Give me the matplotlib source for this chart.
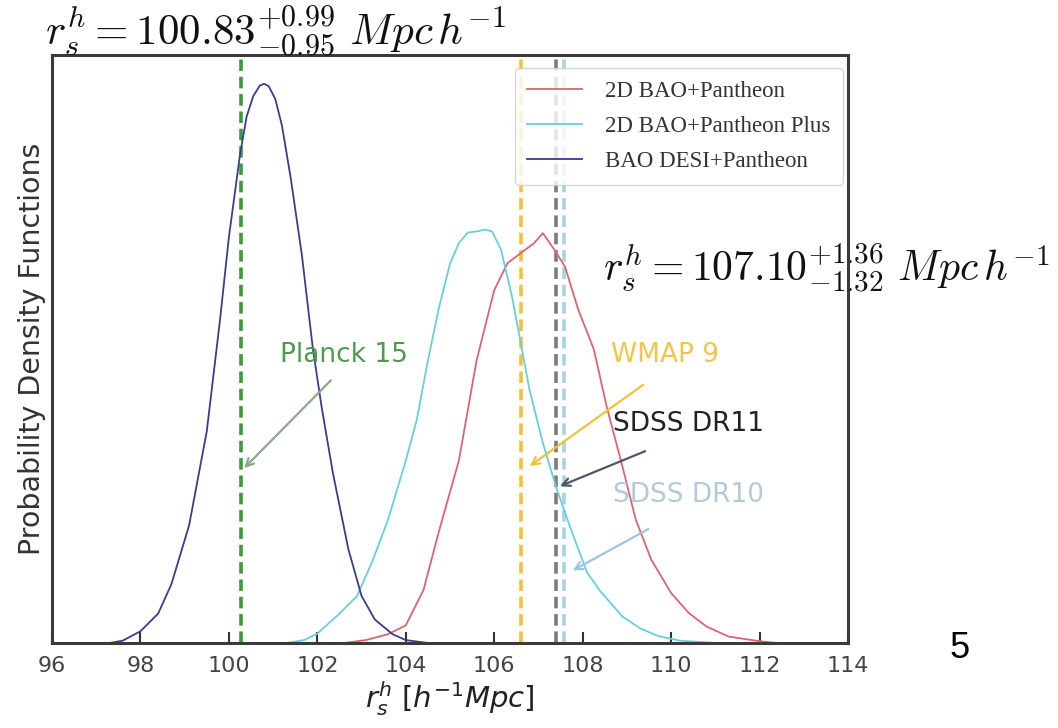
import matplotlib
matplotlib.use("Agg")
import matplotlib.pyplot as plt

plt.rcParams['mathtext.fontset'] = 'dejavusans'

# ---------------- data ----------------
desi_x = [97.3, 97.6, 98.0, 98.4, 98.7, 99.1, 99.5, 99.8, 100.0, 100.25, 100.4, 100.55, 100.7, 100.8,
          100.9, 101.05, 101.2, 101.4, 101.65, 101.9, 102.1, 102.35, 102.7, 103.0, 103.3, 103.7, 104.0, 104.5]
desi_y = [0.0, 0.004, 0.02, 0.05, 0.10, 0.20, 0.36, 0.55, 0.69, 0.83, 0.895, 0.93, 0.948, 0.951,
          0.947, 0.925, 0.88, 0.79, 0.66, 0.50, 0.40, 0.29, 0.16, 0.08, 0.04, 0.015, 0.005, 0.0]

plus_x = [101.3, 101.7, 102.0, 102.5, 102.9, 103.25, 103.6, 104.0, 104.25, 104.5, 104.75, 105.0,
          105.2, 105.4, 105.6, 105.8, 105.95, 106.15, 106.4, 106.8, 107.1, 107.4, 107.75, 108.1,
          108.4, 108.9, 109.3, 109.7, 110.2, 111.0]
plus_y = [0.0, 0.005, 0.016, 0.05, 0.08, 0.14, 0.21, 0.31, 0.38, 0.48, 0.57, 0.645,
          0.68, 0.698, 0.70, 0.703, 0.70, 0.67, 0.59, 0.43, 0.34, 0.265, 0.19, 0.12,
          0.088, 0.045, 0.025, 0.012, 0.004, 0.0]

pan_x = [102.6, 103.1, 103.6, 104.0, 104.4, 104.75, 105.2, 105.6, 106.0, 106.3, 106.6, 106.9,
         107.1, 107.35, 107.6, 107.9, 108.25, 108.55, 108.9, 109.2, 109.55, 110.0, 110.4, 110.8,
         111.3, 112.0, 112.4]
pan_y = [0.0, 0.005, 0.015, 0.03, 0.09, 0.19, 0.31, 0.48, 0.60, 0.646, 0.663, 0.68,
         0.697, 0.67, 0.64, 0.567, 0.50, 0.40, 0.30, 0.21, 0.142, 0.085, 0.051, 0.028,
         0.011, 0.003, 0.0]

series_labels = ["2D BAO+Pantheon", "2D BAO+Pantheon Plus", "BAO DESI+Pantheon"]
series_colors = ["#dc6470", "#66d0da", "#3c3c8e"]

ref_names = ["Planck 15", "WMAP 9", "SDSS DR11", "SDSS DR10"]
ref_values = [100.28, 106.6, 107.4, 107.58]
ref_line_colors = ["#3e9a3e", "#f2c23a", "#7a7a80", "#a8d4e2"]
ref_text_colors = ["#4f9a4f", "#f2c54a", "#222222", "#b4cad8"]
ref_arrow_colors = ["#8aa88a", "#f0c23a", "#4a5868", "#9cc6da"]
ref_text_pos = [(101.15, 0.49), (108.63, 0.49), (108.68, 0.372), (108.68, 0.252)]
ref_tip_pos = [(100.3, 0.294), (106.75, 0.298), (107.43, 0.265), (107.72, 0.121)]
ref_tail_pos = [(102.35, 0.45), (109.42, 0.442), (109.47, 0.328), (109.54, 0.196)]

xticks = [96, 98, 100, 102, 104, 106, 108, 110, 112, 114]

title_left = r'$r_s^h = 100.83^{+0.99}_{-0.95}\ Mpc\,h^{-1}$'
title_right = r'$r_s^h = 107.10^{+1.36}_{-1.32}\ Mpc\,h^{-1}$'

# ---------------- figure ----------------
W, H = 1058, 728
fig = plt.figure(figsize=(W / 100, H / 100), dpi=100)
ax = fig.add_axes([52 / W, 1 - 643 / H, (848 - 52) / W, (643 - 55) / H])

for xs, ys, lab, col in zip([pan_x, plus_x, desi_x], [pan_y, plus_y, desi_y], series_labels, series_colors):
    ax.plot(xs, ys, color=col, lw=1.3, label=lab, zorder=3)

for v, c in zip(ref_values, ref_line_colors):
    ax.axvline(v, color=c, lw=2.6, ls=(0, (3.2, 1.6)), zorder=2)

for name, tc, ac, tp, tip, tail in zip(ref_names, ref_text_colors, ref_arrow_colors,
                                       ref_text_pos, ref_tip_pos, ref_tail_pos):
    ax.text(tp[0], tp[1], name, color=tc, fontsize=19, ha='left', va='center',
            family='DejaVu Sans', zorder=4)
    ax.annotate('', xy=tip, xytext=tail,
                arrowprops=dict(arrowstyle='->', color=ac, lw=1.6, mutation_scale=14),
                zorder=4)

ax.set_xlim(96, 114)
ax.set_ylim(0, 1)
ax.set_xticks(xticks)
ax.set_xticklabels([str(t) for t in xticks])
ax.set_yticks([])
ax.tick_params(axis='x', direction='in', length=8, width=1.5, color='#333333',
               labelsize=16, labelcolor='#444444', pad=9)
for s in ax.spines.values():
    s.set_linewidth(2.2)
    s.set_color('#3a3a3a')
    s.set_zorder(5)

ax.set_xlabel(r'$r_s^h\ [h^{-1}Mpc]$', fontsize=21, color='#222222', labelpad=3)
ax.set_ylabel('Probability Density Functions', fontsize=20.5, color='#333333', labelpad=4)

leg = ax.legend(loc='upper right', bbox_to_anchor=(0.994, 0.978), borderaxespad=0,
                prop={'family': 'Liberation Serif', 'size': 16.5}, handlelength=2.4,
                labelspacing=0.62, frameon=True, fancybox=True, borderpad=0.55,
                handletextpad=1.0)
leg.get_frame().set_edgecolor('#cccccc')
leg.get_frame().set_linewidth(1.0)
for t in leg.get_texts():
    t.set_color('#333333')

fig.text(45 / W, 1 - 31 / H, title_left, fontsize=31, ha='left', va='center',
         math_fontfamily='cm', color='#111111')
ax.text(603 / W, 1 - 268 / H, title_right, transform=fig.transFigure, fontsize=30,
        ha='left', va='center', math_fontfamily='cm', color='#111111', clip_on=False, zorder=2)

fig.text(960 / W, 1 - 648 / H, '5', fontsize=26, ha='center', va='center',
         family='Liberation Sans', color='black')

fig.savefig('out.png', dpi=100)
